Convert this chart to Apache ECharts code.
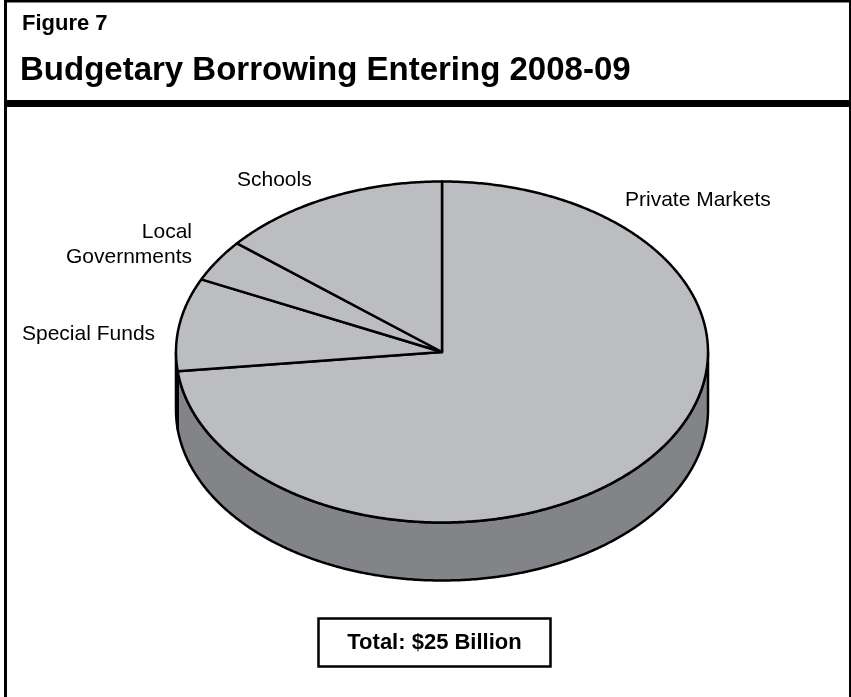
<!DOCTYPE html>
<html>
<head>
<meta charset="utf-8">
<script src="https://cdn.jsdelivr.net/npm/echarts@6/dist/echarts.min.js"></script>
<style>
  html, body { margin: 0; padding: 0; background: #fff; }
  #chart { width: 851px; height: 697px; }
</style>
</head>
<body>
<div id="chart"></div>
<script>
// Budgetary borrowing by lender, $ billions (clockwise from 12 o'clock)
const categories = ['Private Markets', 'Special Funds', 'Local Governments', 'Schools'];
const sliceLabels = ['Private Markets', 'Special Funds', 'Local\nGovernments', 'Schools'];
const values = [18.3, 2.2, 1.0, 3.5];
const figureLabel = 'Figure 7';
const titleText = 'Budgetary Borrowing Entering 2008-09';
const totalLabel = 'Total: $25 Billion';

const FONT = '"Liberation Sans", Arial, Helvetica, sans-serif';
const TOP_FILL = '#bcbdc1';
const SIDE_FILL = '#838488';

// Tilted pie geometry
const pie = { cx: 442, cy: 352, rx: 266, ry: 170.5, depth: 58 };

// Where each slice's label sits
const labelLayout = {
  'Private Markets':   { x: 625, y: 200, align: 'left' },
  'Special Funds':     { x: 22,  y: 334, align: 'left' },
  'Local Governments': { x: 192, y: 245, align: 'right' },
  'Schools':           { x: 237, y: 180, align: 'left' }
};

const total = values.reduce((a, b) => a + b, 0);
const starts = [];
let acc = 0;
values.forEach(v => { starts.push(acc); acc += v; });

function pt(a, dy) {
  return [pie.cx + pie.rx * Math.sin(a), pie.cy - pie.ry * Math.cos(a) + (dy || 0)];
}
function arc(a0, a1, dy) {
  const n = Math.max(2, Math.ceil((a1 - a0) / (Math.PI / 360)));
  const out = [];
  for (let i = 0; i <= n; i++) out.push(pt(a0 + (a1 - a0) * i / n, dy));
  return out;
}

function renderItem(params, api) {
  const i = params.dataIndex;
  const v = api.value(0);
  const a0 = starts[i] / total * 2 * Math.PI;
  const a1 = a0 + v / total * 2 * Math.PI;
  const children = [];
  // front wall (visible between 3 and 9 o'clock)
  const s0 = Math.max(a0, Math.PI / 2);
  const s1 = Math.min(a1, 1.5 * Math.PI);
  if (s1 > s0) {
    const wall = arc(s0, s1, 0).concat(arc(s0, s1, pie.depth).reverse());
    children.push({
      type: 'polygon', z2: 1,
      shape: { points: wall },
      style: { fill: SIDE_FILL, stroke: '#000', lineWidth: 2.5, lineJoin: 'round' }
    });
  }
  // top face
  children.push({
    type: 'polygon', z2: 10,
    shape: { points: [[pie.cx, pie.cy]].concat(arc(a0, a1, 0)) },
    style: { fill: TOP_FILL, stroke: '#000', lineWidth: 2.5, lineJoin: 'round' }
  });
  return { type: 'group', children: children };
}

function txt(text, x, y, font, align) {
  return {
    type: 'text', x: x, y: y, silent: true,
    style: {
      text: text, font: font, fill: '#000',
      align: align, verticalAlign: 'middle',
      textAlign: align, textVerticalAlign: 'middle',
      lineHeight: 25
    }
  };
}

const graphics = [
  // frame
  { type: 'rect', shape: { x: 4, y: 0, width: 3, height: 697 }, style: { fill: '#000' } },
  { type: 'rect', shape: { x: 4, y: 0, width: 847, height: 2.5 }, style: { fill: '#000' } },
  { type: 'rect', shape: { x: 849, y: 0, width: 2, height: 697 }, style: { fill: '#000' } },
  { type: 'rect', shape: { x: 4, y: 100, width: 847, height: 7 }, style: { fill: '#000' } },
  txt(figureLabel, 22, 24, 'bold 22px ' + FONT, 'left'),
  txt(titleText, 20, 71, 'bold 33px ' + FONT, 'left'),
  // total box
  { type: 'rect', shape: { x: 318.5, y: 618.5, width: 232, height: 48 },
    style: { fill: '#fff', stroke: '#000', lineWidth: 2.5 } },
  txt(totalLabel, 434.5, 643, 'bold 22px ' + FONT, 'center')
];

categories.forEach((name, i) => {
  const L = labelLayout[name];
  graphics.push(txt(sliceLabels[i], L.x, L.y, '21px ' + FONT, L.align));
});

const chart = echarts.init(document.getElementById('chart'), null, { renderer: 'canvas' });
chart.setOption({
  animation: false,
  backgroundColor: '#fff',
  series: [{
    type: 'custom',
    coordinateSystem: 'none',
    silent: true,
    renderItem: renderItem,
    data: values.map((v, i) => ({ name: categories[i], value: [v] }))
  }],
  graphic: graphics
});
</script>
</body>
</html>
